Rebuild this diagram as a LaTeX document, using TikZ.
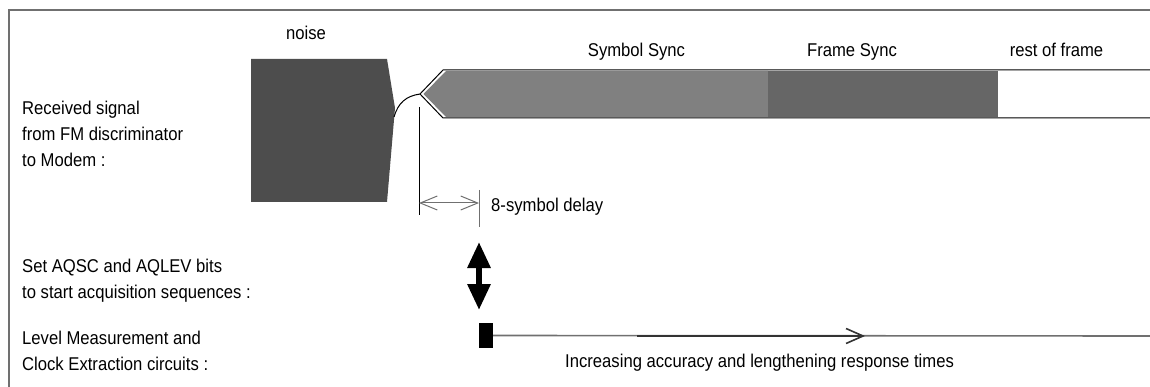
\documentclass[tikz,border=0pt]{standalone}
\usepackage{fontspec}
\setmainfont{Liberation Sans}[FakeStretch=0.9]
\usetikzlibrary{arrows.meta}
\definecolor{noisefill}{HTML}{4D4D4D}
\definecolor{symfill}{HTML}{808080}
\definecolor{framefill}{HTML}{666666}
\definecolor{rulegray}{HTML}{707070}
\begin{document}
\begin{tikzpicture}[x=1pt,y=-1pt,
  lbl/.style={inner sep=0pt, font=\fontsize{18.5}{26}\selectfont},
  frameline/.style={draw=rulegray, line width=1.5pt},
  edgeline/.style={draw=black, line width=1pt},
  dimline/.style={draw=black, line width=0.9pt},
  dimarrow/.style={draw=rulegray, line width=1pt, {Straight Barb[length=17pt,width=14pt]}-{Straight Barb[length=17pt,width=14pt]}},
  bigarrow/.style={draw=black, line width=6pt, {Triangle[length=26pt,width=22pt]}-{Triangle[length=26pt,width=22pt]}},
  timeline/.style={draw=rulegray, line width=1.6pt},
  progress/.style={draw=black!80, line width=1.6pt, -{Straight Barb[length=17pt,width=15pt,line width=1.6pt]}}
]
\useasboundingbox (0,0) rectangle (1150,387);
% frame (top and left)
\draw[frameline] (9,387) -- (9,10) -- (1150,10);

% noise block
\fill[noisefill] (251,59) -- (387,59) -- (395,108) -- (387,202) -- (251,202) -- cycle;
% signal bar
\fill[symfill] (423.5,94) -- (446,71) -- (768,71) -- (768,117) -- (446,117) -- cycle;
\fill[framefill] (768,71) rectangle (998,117);
\draw[edgeline] (1150,70) -- (443,70) -- (420,94) -- (443,118) -- (1150,118);
\draw[edgeline] (394,117) .. controls (398,103) and (406,96) .. (420,94);

% labels on top
\node[lbl, anchor=base] (noise) at (306,40) {noise};
\node[lbl, anchor=base] (symsync) at (636.5,56.5) {Symbol Sync};
\node[lbl, anchor=base] (framesync) at (852,56.5) {Frame Sync};
\node[lbl, anchor=base] (rest) at (1056.5,56.5) {rest of frame};

% left labels
\node[lbl, anchor=base west] (rx1) at (22,115) {Received signal};
\node[lbl, anchor=base west] (rx2) at (22,141) {from FM discriminator};
\node[lbl, anchor=base west] (rx3) at (22,167) {to Modem :};
\node[lbl, anchor=base west] (aq1) at (22,272) {Set AQSC and AQLEV bits};
\node[lbl, anchor=base west] (aq2) at (22,298) {to start acquisition sequences :};
\node[lbl, anchor=base west] (lv1) at (22,344) {Level Measurement and};
\node[lbl, anchor=base west] (lv2) at (22,370) {Clock Extraction circuits :};

% delay dimension
\coordinate (v1top) at (419,107);
\coordinate (v1bot) at (419,215);
\coordinate (v2top) at (479,190);
\coordinate (v2bot) at (479,227);
\coordinate (d1) at (419,203);
\coordinate (d2) at (479,203);
\draw[dimline] (v1top) -- (v1bot);
\draw[dimline, draw=rulegray] (v2top) -- (v2bot);
\draw[dimarrow] (d1) -- (d2);
\node[lbl, anchor=base west] (delay) at (491,211.5) {8-symbol delay};

% acquisition double arrow
\coordinate (aqtop) at (479,242);
\coordinate (aqbot) at (479,310);
\draw[bigarrow] (aqtop) -- (aqbot);

% level measurement timeline
\node[fill=black, minimum width=14pt, minimum height=25pt, inner sep=0pt] (start) at (486,335.5) {};
\coordinate (lineend) at (1150,336);
\coordinate (pstart) at (637,336);
\coordinate (ptip) at (865,336);
\draw[timeline] (start.east) -- (lineend);
\draw[progress] (pstart) -- (ptip);
\node[lbl, anchor=base west] (accuracy) at (565,367.5) {Increasing accuracy and lengthening response times};
\end{tikzpicture}
\end{document}
